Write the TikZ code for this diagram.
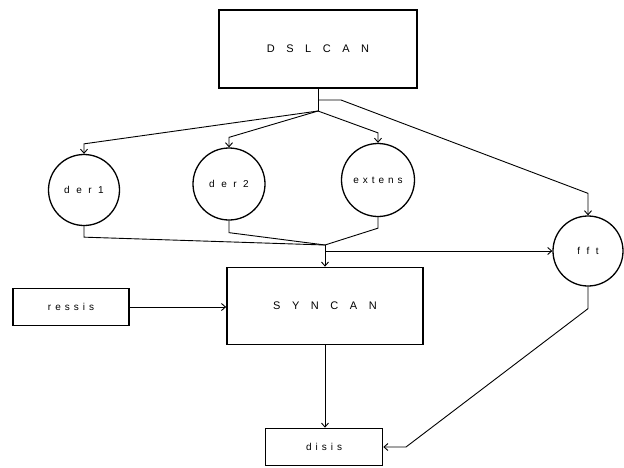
\documentclass[tikz,border=0pt]{standalone}
\usepackage{fontspec}
\newfontfamily\bigfont[LetterSpace=105]{Liberation Sans}
\newfontfamily\smallfont[LetterSpace=40]{Liberation Sans}
\newfontfamily\widefont[LetterSpace=65]{Liberation Sans}
\usetikzlibrary{arrows.meta,positioning,calc}
\tikzset{
  bigbox/.style={draw,line width=1.7pt,font=\bigfont\fontsize{11}{13}\selectfont},
  smallbox/.style={draw,line width=1.6pt,font=\smallfont\fontsize{10}{12}\selectfont},
  proc/.style={draw,circle,line width=1.3pt,inner sep=0pt,font=\smallfont\fontsize{10}{12}\selectfont},
  wideproc/.style={proc,font=\widefont\fontsize{10}{12}\selectfont},
  link/.style={line width=0.9pt}
}
\begin{document}
\begin{tikzpicture}[x=1pt,y=-1pt,>={Straight Barb[length=4pt,width=7pt]}]
\useasboundingbox (0,0) rectangle (624,467);
\node [bigbox,minimum width=198pt,minimum height=78pt](dsl) at (318,49) {DSLCAN};
\node [bigbox,minimum width=196pt,minimum height=77pt](syn) at (325,306) {SYNCAN};
\node [wideproc,minimum size=71pt](dr1) at (84,190) {der1};
\node [wideproc,minimum size=72pt](dr2) at (229,184) {der2};
\node [proc,minimum size=73pt](ext) at (378,180) {extens};
\node [wideproc,minimum size=70pt](fft) at (588,251) {fft};
\node [smallbox,minimum width=116pt,minimum height=37pt](res) at (71,307) {ressis};
\node [smallbox,minimum width=117pt,minimum height=37pt](dis) at (324,447) {disis};
\coordinate (split) at (318,111);
\coordinate (fork) at (318,100);
\coordinate (merge) at (325,245);
\coordinate (knee) at (406,447);
\draw [link] (dsl.south) -- (split);
\draw [link,->] (fork) -- (341,100) -- ([yshift=22pt]fft.north) -- (fft.north);
\draw [link,->] (split) -- ([yshift=10pt]dr1.north) -- (dr1.north);
\draw [link,->] (split) -- ([yshift=10pt]dr2.north) -- (dr2.north);
\draw [link,->] (split) -- ([yshift=10pt]ext.north) -- (ext.north);
\draw [link] (dr1.south) -- ([yshift=-11pt]dr1.south) -- (merge);
\draw [link] (dr2.south) -- ([yshift=-12pt]dr2.south) -- (merge);
\draw [link] (ext.south) -- ([yshift=-11pt]ext.south) -- (merge);
\draw [link,->] (merge) -- (syn.north);
\draw [link,->] (merge |- fft.west) -- (fft.west);
\draw [link,->] (res.east) -- (res.east -| syn.west);
\draw [link,->] (syn.south) -- (syn.south |- dis.north);
\draw [link,->] (fft.south) -- ([yshift=-22pt]fft.south) -- (knee) -- (dis.east);
\end{tikzpicture}
\end{document}
